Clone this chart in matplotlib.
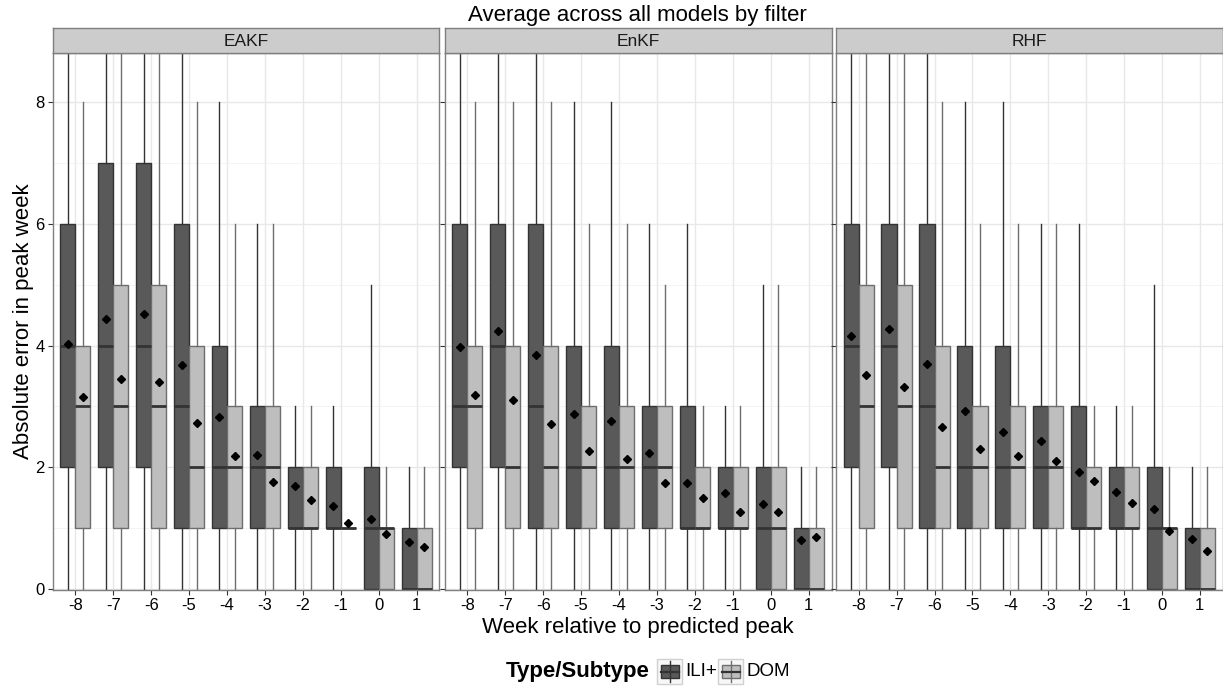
import numpy as np
import matplotlib
matplotlib.use('Agg')
import matplotlib.pyplot as plt
from matplotlib.patches import Rectangle

plt.rcParams['font.family'] = ['Liberation Sans', 'DejaVu Sans']

weeks = [-8, -7, -6, -5, -4, -3, -2, -1, 0, 1]
filters = ['EAKF', 'EnKF', 'RHF']
types = ['ILI+', 'DOM']

# boxplot summaries per filter (whiskers above 8.8 run off the panel)
ili_lo = {'EAKF': [0, 0, 0, 0, 0, 0, 0, 0, 0, 0],
          'EnKF': [0, 0, 0, 0, 0, 0, 0, 0, 0, 0],
          'RHF':  [0, 0, 0, 0, 0, 0, 0, 0, 0, 0]}
ili_q1 = {'EAKF': [2, 2, 2, 1, 1, 1, 1, 1, 0, 0],
          'EnKF': [2, 2, 1, 1, 1, 1, 1, 1, 0, 0],
          'RHF':  [2, 2, 1, 1, 1, 1, 1, 1, 0, 0]}
ili_med = {'EAKF': [4, 4, 4, 3, 2, 2, 1, 1, 1, 0],
           'EnKF': [3, 4, 3, 2, 2, 2, 1, 1, 1, 0],
           'RHF':  [4, 4, 3, 2, 2, 2, 1, 1, 1, 0]}
ili_q3 = {'EAKF': [6, 7, 7, 6, 4, 3, 2, 2, 2, 1],
          'EnKF': [6, 6, 6, 4, 4, 3, 3, 2, 2, 1],
          'RHF':  [6, 6, 6, 4, 4, 3, 3, 2, 2, 1]}
ili_hi = {'EAKF': [12, 12, 12, 12, 8, 6, 3, 3, 5, 2],
          'EnKF': [12, 12, 12, 8, 8, 6, 6, 3, 5, 2],
          'RHF':  [12, 12, 12, 8, 8, 6, 6, 3, 5, 2]}
ili_mean = {'EAKF': [4.02, 4.44, 4.52, 3.68, 2.83, 2.20, 1.69, 1.37, 1.15, 0.78],
            'EnKF': [3.97, 4.24, 3.85, 2.88, 2.76, 2.24, 1.75, 1.58, 1.39, 0.81],
            'RHF':  [4.15, 4.27, 3.69, 2.92, 2.58, 2.44, 1.92, 1.60, 1.32, 0.82]}

dom_lo = {'EAKF': [0, 0, 0, 0, 0, 0, 0, 1, 0, 0],
          'EnKF': [0, 0, 0, 0, 0, 0, 0, 0, 0, 0],
          'RHF':  [0, 0, 0, 0, 0, 0, 0, 0, 0, 0]}
dom_q1 = {'EAKF': [1, 1, 1, 1, 1, 1, 1, 1, 0, 0],
          'EnKF': [1, 1, 1, 1, 1, 1, 1, 1, 0, 0],
          'RHF':  [1, 1, 1, 1, 1, 1, 1, 1, 0, 0]}
dom_med = {'EAKF': [3, 3, 3, 2, 2, 2, 1, 1, 1, 0],
           'EnKF': [3, 2, 2, 2, 2, 2, 1, 1, 1, 0],
           'RHF':  [3, 3, 2, 2, 2, 2, 1, 1, 1, 0]}
dom_q3 = {'EAKF': [4, 5, 5, 4, 3, 3, 2, 1, 1, 1],
          'EnKF': [4, 4, 4, 3, 3, 3, 2, 2, 2, 1],
          'RHF':  [5, 5, 4, 3, 3, 3, 2, 2, 1, 1]}
dom_hi = {'EAKF': [8, 12, 12, 8, 6, 6, 3, 1, 2, 2],
          'EnKF': [8, 8, 8, 6, 6, 5, 3, 3, 5, 2],
          'RHF':  [12, 12, 8, 6, 6, 6, 3, 3, 2, 2]}
dom_mean = {'EAKF': [3.15, 3.45, 3.40, 2.73, 2.19, 1.76, 1.47, 1.08, 0.90, 0.69],
            'EnKF': [3.19, 3.11, 2.71, 2.26, 2.13, 1.75, 1.49, 1.27, 1.27, 0.85],
            'RHF':  [3.51, 3.32, 2.67, 2.30, 2.19, 2.10, 1.77, 1.41, 0.95, 0.62]}

ili_fill, ili_edge = '#595959', '#333333'
dom_fill, dom_edge = '#bebebe', '#6e6e6e'

W, H = 1223, 690
fig = plt.figure(figsize=(W / 100, H / 100), dpi=100)


def fr(x0, y0, x1, y1):
    # pixel box -> figure fraction rect
    return [x0 / W, 1 - y1 / H, (x1 - x0) / W, (y1 - y0) / H]


def stats(lo, q1, med, q3, hi, mean):
    return [dict(whislo=a, q1=b, med=c, q3=d, whishi=e, mean=f, fliers=[])
            for a, b, c, d, e, f in zip(lo, q1, med, q3, hi, mean)]


panel_x = [(52.5, 439.5), (444.5, 831.5), (836, 1222.5)]
x = np.arange(len(weeks))

for k, name in enumerate(filters):
    x0, x1 = panel_x[k]
    ax = fig.add_axes(fr(x0, 52.7, x1, 590))
    ax.set_facecolor('white')

    # grid
    for yv in [1, 3, 5, 7]:
        ax.axhline(yv, color='#f2f2f2', lw=0.6, zorder=0)
    for yv in [0, 2, 4, 6, 8]:
        ax.axhline(yv, color='#e8e8e8', lw=1.0, zorder=0)
    for xv in x:
        ax.axvline(xv, color='#e8e8e8', lw=1.0, zorder=0)

    series = [
        (stats(ili_lo[name], ili_q1[name], ili_med[name], ili_q3[name], ili_hi[name], ili_mean[name]),
         x - 0.2, ili_fill, ili_edge),
        (stats(dom_lo[name], dom_q1[name], dom_med[name], dom_q3[name], dom_hi[name], dom_mean[name]),
         x + 0.2, dom_fill, dom_edge),
    ]
    for st, pos, fill, edge in series:
        ax.bxp(st, positions=pos, widths=0.4, patch_artist=True,
               showcaps=False, showfliers=False, showmeans=True,
               boxprops=dict(facecolor=fill, edgecolor=edge, linewidth=1.0),
               whiskerprops=dict(color=edge, linewidth=1.0),
               medianprops=dict(color='#333333', linewidth=2.0),
               meanprops=dict(marker='D', markerfacecolor='black',
                              markeredgecolor='black', markersize=4.5),
               manage_ticks=False, zorder=2)

    ax.set_xlim(-0.6, 9.6)
    ax.set_ylim(-0.015, 8.81)
    ax.set_xticks(x)
    ax.set_xticklabels([str(w) for w in weeks], fontsize=12, color='black')
    ax.set_yticks([0, 2, 4, 6, 8])
    if k == 0:
        ax.set_yticklabels(['0', '2', '4', '6', '8'], fontsize=12, color='black')
    else:
        ax.set_yticklabels([])
        ax.tick_params(axis='y', length=0)
    ax.tick_params(axis='both', direction='out', length=3.5, width=0.8,
                   color='#333333', pad=2)
    for sp in ax.spines.values():
        sp.set_color('#7f7f7f')
        sp.set_linewidth(1.0)

    # facet strip
    sax = fig.add_axes(fr(x0, 28.3, x1, 52.7))
    sax.set_facecolor('#cccccc')
    sax.set_xticks([])
    sax.set_yticks([])
    for sp in sax.spines.values():
        sp.set_color('#7f7f7f')
        sp.set_linewidth(1.0)
    sax.text(0.5, 0.45, name, ha='center', va='center', fontsize=12.5,
             color='#1a1a1a', transform=sax.transAxes)

# titles, axis labels and legend in pixel space
ov = fig.add_axes([0, 0, 1, 1], facecolor='none')
ov.set_xlim(0, W)
ov.set_ylim(H, 0)
ov.axis('off')

ov.text(637.5, 15, 'Average across all models by filter', ha='center',
        va='center', fontsize=16)
ov.text(637.5, 628, 'Week relative to predicted peak', ha='center',
        va='center', fontsize=16)
ov.text(24, 321, 'Absolute error in peak week', ha='center', va='center',
        rotation=90, fontsize=16)

ov.text(650, 672, 'Type/Subtype', ha='right', va='center', fontsize=16,
        fontweight='bold')
keys = [(657, ili_fill, ili_edge, 'ILI+'), (718, dom_fill, dom_edge, 'DOM')]
for kx, fill, edge, lab in keys:
    ov.add_patch(Rectangle((kx, 659), 25, 25, facecolor='#f7f7f7',
                           edgecolor='#d0d0d0', lw=1.0))
    cx = kx + 12.5
    ov.plot([cx, cx], [661, 682], color=edge, lw=1.0)
    ov.add_patch(Rectangle((kx + 3.5, 665), 18, 13, facecolor=fill,
                           edgecolor=edge, lw=1.0))
    ov.plot([kx + 3.5, kx + 21.5], [671.5, 671.5], color='#333333', lw=1.6)
    ov.text(kx + 28, 672, lab, ha='left', va='center', fontsize=13.5)

fig.savefig('out.png', dpi=100)
